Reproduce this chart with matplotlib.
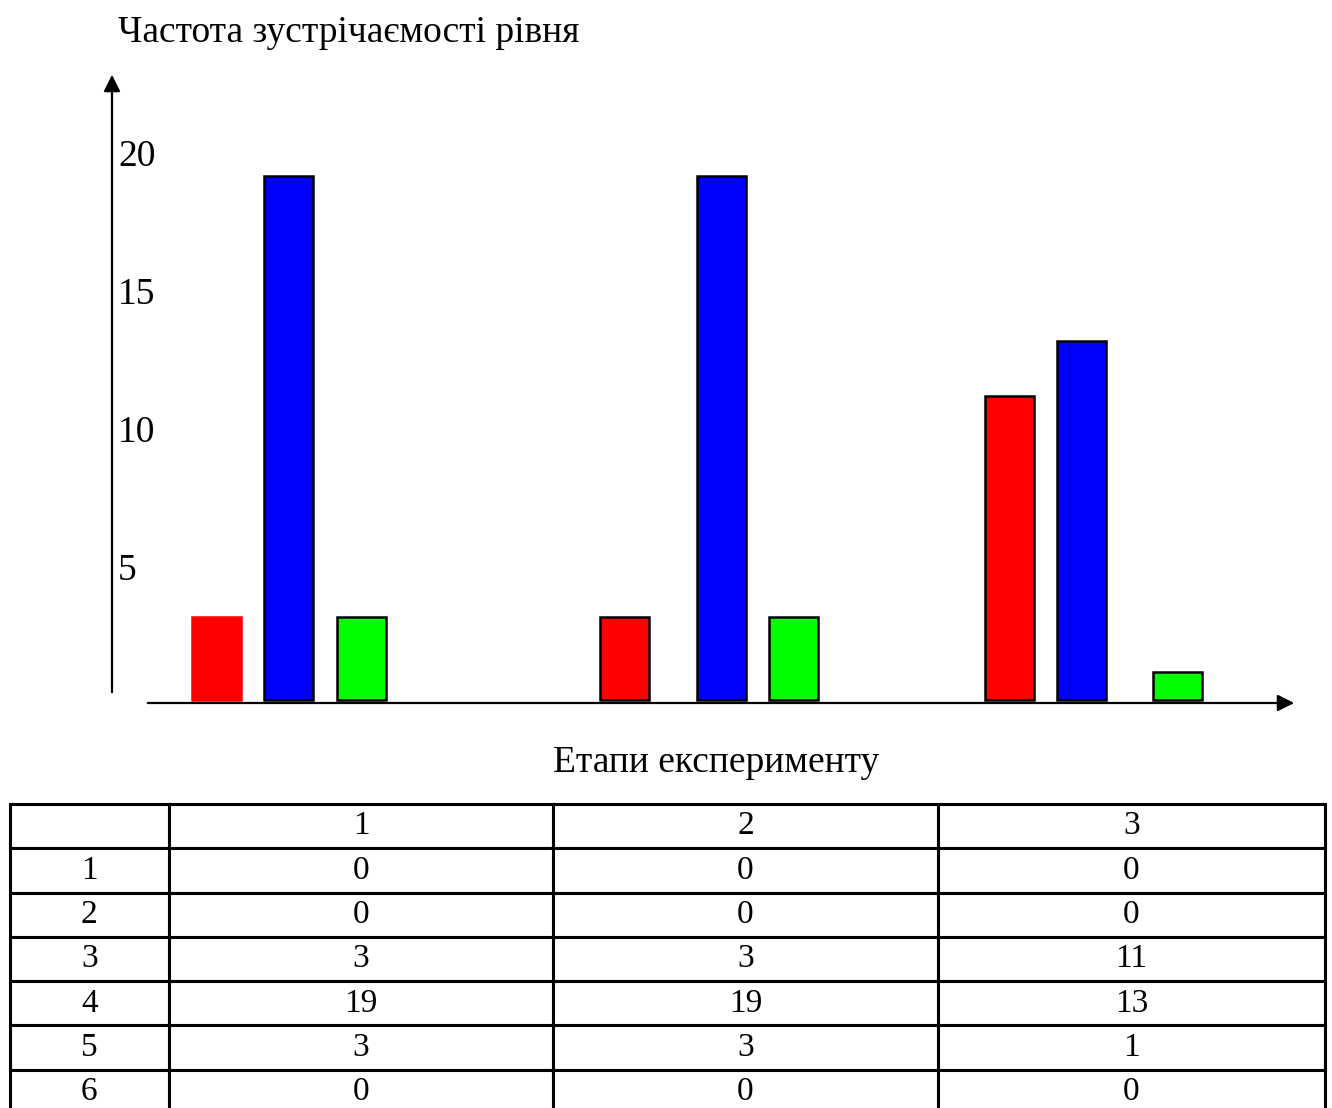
import numpy as np
import matplotlib.pyplot as plt

plt.rcParams['font.family'] = ['Liberation Serif', 'DejaVu Serif']

# дані: етапи експерименту та частоти рівнів 3, 4, 5
stages = ['1', '2', '3']
levels = ['1', '2', '3', '4', '5', '6']
freq = [[0, 0, 0],
        [0, 0, 0],
        [3, 3, 11],
        [19, 19, 13],
        [3, 3, 1],
        [0, 0, 0]]
level3 = [3, 3, 11]   # червоні
level4 = [19, 19, 13] # сині
level5 = [3, 3, 1]    # зелені
yticks = [5, 10, 15, 20]

W, H = 1332, 1108
fig = plt.figure(figsize=(W / 100, H / 100), dpi=100)
ax = fig.add_axes([0, 0, 1, 1])
# по x - пікселі, по y - значення (0 на 700 px, 27.6 px на одиницю)
y0, k = 700, 27.6
ax.set_xlim(0, W)
ax.set_ylim((y0 - H) / k, y0 / k)
ax.axis('off')

def py(p):
    return (y0 - p) / k

centers = np.array([288, 721, 1081])
off_red = np.array([-72, -97, -72])
off_green = np.array([73, 72, 96])
bw = 49
ax.bar(centers + off_red, level3, width=bw, color='#ff0000', edgecolor=['#ff0000', 'black', 'black'], linewidth=1.8)
ax.bar(centers, level4, width=bw, color='#0000ff', edgecolor='black', linewidth=1.8)
ax.bar(centers + off_green, level5, width=bw, color='#00ff00', edgecolor='black', linewidth=1.8)

# осі зі стрілками
ax.annotate('', xy=(112, py(72)), xytext=(112, py(695)),
            arrowprops=dict(arrowstyle='-|>', color='black', lw=1.6, mutation_scale=25))
ax.annotate('', xy=(1297, py(703)), xytext=(145, py(703)),
            arrowprops=dict(arrowstyle='-|>', color='black', lw=1.6, mutation_scale=25))

for v in yticks:
    ax.text(118, v - 9 / k, str(v), fontsize=27, ha='left', va='center')

ax.text(118, py(33), 'Частота зустрічаємості рівня', fontsize=27, ha='left', va='center')
ax.text(716, py(763), 'Етапи експерименту', fontsize=27, ha='center', va='center')

# таблиця
tx0, tx1, ty0, ty1 = 9.5, 1325, 804, 1114
tax = fig.add_axes([tx0 / W, 1 - ty1 / H, (tx1 - tx0) / W, (ty1 - ty0) / H])
tax.axis('off')
cells = [[''] + stages] + [[levels[i]] + [str(v) for v in freq[i]] for i in range(len(levels))]
cw = np.array([159.5, 384, 385, 387])
tbl = tax.table(cellText=cells, colWidths=list(cw / cw.sum()), cellLoc='center', bbox=[0, 0, 1, 1])
tbl.auto_set_font_size(False)
for (r, c), cell in tbl.get_celld().items():
    cell.set_linewidth(2.2)
    cell.set_edgecolor('black')
    cell.get_text().set_fontsize(24)

fig.savefig('out.png', dpi=100)
